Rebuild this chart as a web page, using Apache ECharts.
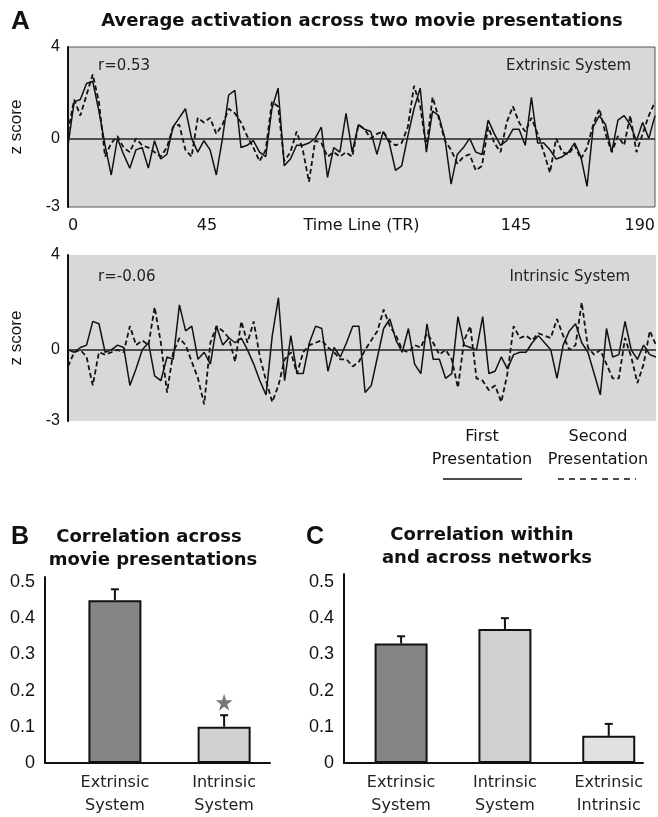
<!DOCTYPE html>
<html>
<head>
<meta charset="utf-8">
<script src="https://cdn.jsdelivr.net/npm/echarts@6/dist/echarts.min.js"></script>
<style>
  html, body { margin: 0; padding: 0; background: #fff; }
  #chart { width: 658px; height: 817px; }
</style>
</head>
<body>
<div id="chart"></div>
<script>
// time series, one value every 2 TR (0..190)
var TR_STEP = 2;
var extFirst = [
  -0.3, 1.6, 1.7, 2.4, 2.5, 1.2, -0.3, -1.6, 0, -0.7,
  -1.3, -0.5, -0.4, -1.3, -0.1, -0.9, -0.7, 0.5, 0.9, 1.3,
  0, -0.6, -0.1, -0.5, -1.6, 0, 1.9, 2.1, -0.4, -0.3,
  -0.1, -0.6, -0.8, 1.3, 2.2, -1.2, -0.9, -0.3, -0.3, -0.2,
  0, 0.5, -1.7, -0.4, -0.6, 1.1, -0.6, 0.6, 0.4, 0.3,
  -0.7, 0.3, -0.2, -1.4, -1.2, 0.1, 1.3, 2.2, -0.6, 1.2,
  1.0, 0, -2.0, -0.7, -0.4, 0, -0.6, -0.7, 0.8, 0.2,
  -0.3, -0.1, 0.4, 0.4, -0.3, 1.8, -0.2, -0.2, -0.5, -0.9,
  -0.8, -0.6, -0.2, -0.8, -2.1, 0.5, 1.0, 0.6, -0.6, 0.8,
  1.0, 0.6, -0.1, 0.7, 0, 1.0
];
var extSecond = [
  0.3, 1.7, 1.0, 1.9, 2.8, 1.6, -0.8, -0.2, 0.1, -0.4,
  -0.6, 0, -0.3, -0.4, -0.6, -0.8, -0.4, 0.5, 0.6, -0.5,
  -0.8, 0.9, 0.7, 0.9, 0.2, 0.6, 1.3, 1.1, 0.7, 0.1,
  -0.4, -1.0, -0.5, 1.6, 1.4, -1.0, -0.6, 0.3, -0.5, -1.9,
  -0.1, -0.2, -0.8, -0.6, -0.8, -0.6, -0.8, 0.6, 0.4, 0,
  0.2, 0.3, -0.1, -0.3, -0.2, 0.5, 2.3, 1.4, -0.4, 1.8,
  0.9, -0.1, -0.5, -1.1, -0.8, -0.7, -1.4, -1.2, 0.5, -0.2,
  -0.6, 0.7, 1.4, 0.7, 0.3, 0.9, 0.2, -0.6, -1.5, 0,
  -0.6, -0.7, -0.3, -0.9, -0.4, 0.6, 1.3, 0.2, -0.6, 0.1,
  -0.3, 1.0, -0.6, 0.2, 1.0, 1.6
];
var intFirst = [
  0, -0.1, 0.1, 0.2, 1.2, 1.1, -0.1, 0, 0.2, 0.1,
  -1.5, -0.8, 0, 0.3, -1.1, -1.3, -0.3, -0.4, 1.9, 0.8,
  1.0, -0.4, -0.1, -0.6, 1.0, 0.2, 0.5, 0.3, 0.5, 0,
  -0.6, -1.3, -1.9, 0.6, 2.2, -1.3, 0.6, -1.0, -1.0, 0.3,
  1.0, 0.9, -0.9, 0.1, -0.3, 0.3, 1.0, 1.0, -1.8, -1.5,
  -0.3, 0.9, 1.3, 0.4, -0.1, 0.9, -0.6, -1.0, 1.1, -0.4,
  -0.4, -1.2, -1.0, 1.4, 0.2, 0.1, 0, 1.4, -1.0, -0.9,
  -0.3, -0.8, -0.2, -0.1, -0.1, 0.3, 0.6, 0.3, 0, -1.2,
  0.2, 0.8, 1.1, 0.3, -0.1, -1.0, -1.9, 0.9, -0.3, -0.2,
  1.2, 0, -0.4, 0.2, -0.2, -0.3
];
var intSecond = [
  -0.7, -0.1, 0, -0.3, -1.5, -0.1, -0.2, -0.1, 0, -0.1,
  1.0, 0.2, 0.4, 0.2, 1.8, 0.3, -1.8, -0.1, 0.5, 0.2,
  -0.5, -1.2, -2.3, 0.3, 1.0, 0.8, 0.5, -0.5, 1.2, 0.3,
  1.2, -0.3, -1.3, -2.2, -1.5, -0.4, -0.1, -1.0, -0.1, 0.2,
  0.3, 0.4, 0.1, -0.1, -0.4, -0.4, -0.7, -0.5, 0, 0.4,
  0.8, 1.7, 1.0, 0.6, 0, -0.1, 0.2, 0.1, 0.7, 0.3,
  -0.2, 0, -0.4, -1.6, 0.4, 1.0, -1.2, -1.3, -1.7, -1.5,
  -2.2, -1.0, 1.0, 0.5, 0.6, 0.4, 0.7, 0.6, 0.5, 1.3,
  0.6, 0, 0.2, 2.0, 0.1, -0.2, 0, -0.6, -1.2, -1.2,
  0.5, -0.3, -1.4, -0.6, 0.8, 0.2
];
var timeTicks = [0, 45, 145, 190];
var zTicks = [-3, 0, 4];

// panel B
var bCats = ['Extrinsic\nSystem', 'Intrinsic\nSystem'];
var bValues = [0.45, 0.10];
var bErrors = [0.03, 0.032];
var bStar = 0.168;
// panel C
var cCats = ['Extrinsic\nSystem', 'Intrinsic\nSystem', 'Extrinsic\nIntrinsic'];
var cValues = [0.33, 0.37, 0.075];
var cErrors = [0.02, 0.03, 0.033];
var corrTicks = [0, 0.1, 0.2, 0.3, 0.4, 0.5];

var bColors = ['#858585', '#d0d0d0'];
var cColors = ['#858585', '#d0d0d0', '#e1e1e1'];

function toPts(arr) {
  return arr.map(function (v, i) { return [i * TR_STEP, v]; });
}
function barPts(vals, colors) {
  return vals.map(function (v, i) {
    return { value: [i + 1, v], itemStyle: { color: colors[i] } };
  });
}
function errPts(vals, errs) {
  return vals.map(function (v, i) { return [i + 1, v, errs[i]]; });
}
function errorBar(params, api) {
  var x = api.value(0), m = api.value(1), e = api.value(2);
  var p0 = api.coord([x, m]);
  var p1 = api.coord([x, m + e]);
  return {
    type: 'group',
    children: [
      { type: 'line', shape: { x1: p0[0], y1: p0[1], x2: p1[0], y2: p1[1] }, style: { stroke: '#111', lineWidth: 2 } },
      { type: 'line', shape: { x1: p1[0] - 4, y1: p1[1], x2: p1[0] + 4, y2: p1[1] }, style: { stroke: '#111', lineWidth: 2 } }
    ]
  };
}

var vera = '"DejaVu Sans", Verdana, sans-serif';
var arial = '"Liberation Sans", Arial, sans-serif';
var starPath = 'path://M50,0 L61,35 L98,35 L68,57 L79,91 L50,70 L21,91 L32,57 L2,35 L39,35 Z';

var chart = echarts.init(document.getElementById('chart'));

var zeroLine = {
  silent: true,
  symbol: 'none',
  label: { show: false },
  lineStyle: { color: '#222', width: 1.5, type: 'solid' },
  data: [{ yAxis: 0 }]
};

function zAxis(idx) {
  return {
    type: 'value', gridIndex: idx, min: -3, max: 4,
    name: 'z score', nameLocation: 'middle', nameGap: 43, nameRotate: 90,
    nameTextStyle: { fontFamily: arial, fontSize: 17, color: '#111' },
    axisLine: { show: true, lineStyle: { color: '#111', width: 2 } },
    axisTick: { show: false },
    splitLine: { show: false },
    axisLabel: { customValues: zTicks, fontFamily: arial, fontSize: 16, color: '#111', margin: 8 }
  };
}

function corrAxis(idx, max) {
  return {
    type: 'value', gridIndex: idx, min: 0, max: max,
    axisLine: { show: true, lineStyle: { color: '#111', width: 2 } },
    axisTick: { show: false },
    splitLine: { show: false },
    axisLabel: {
      customValues: corrTicks, fontFamily: arial, fontSize: 18, color: '#111', margin: 10,
      formatter: function (v) { return v === 0 ? '0' : v.toFixed(1); }
    }
  };
}

function catAxis(idx, min, max, cats) {
  return {
    type: 'value', gridIndex: idx, min: min, max: max,
    axisLine: { show: true, onZero: false, lineStyle: { color: '#111', width: 2 } },
    axisTick: { show: false },
    splitLine: { show: false },
    axisLabel: {
      customValues: cats.map(function (c, i) { return i + 1; }),
      formatter: function (v) { return cats[Math.round(v) - 1]; },
      fontFamily: vera, fontSize: 16, color: '#222', lineHeight: 23, margin: 8
    }
  };
}

function txt(text, x, y, font, align, color) {
  return {
    type: 'text', x: x, y: y,
    style: { text: text, font: font, fill: color || '#111', align: align || 'center', verticalAlign: 'middle' }
  };
}

var option = {
  backgroundColor: '#fff',
  animation: false,
  grid: [
    { left: 62, top: 47, width: 594, height: 160, show: true, backgroundColor: '#d8d8d8', borderColor: '#555', borderWidth: 1 },
    { left: 62, top: 255, width: 594, height: 166, show: true, backgroundColor: '#d8d8d8', borderWidth: 0 },
    { left: 45, top: 577, width: 225, height: 190 },
    { left: 344, top: 574, width: 299, height: 193 }
  ],
  xAxis: [
    {
      type: 'value', gridIndex: 0, min: 0, max: 190,
      name: 'Time Line (TR)', nameLocation: 'middle', nameGap: 11, nameMoveOverlap: false,
      nameTextStyle: { fontFamily: vera, fontSize: 16, color: '#111', verticalAlign: 'top' },
      axisLine: { show: false, onZero: false },
      axisTick: { show: false },
      splitLine: { show: false },
      axisLabel: {
        customValues: timeTicks, fontFamily: vera, fontSize: 16, color: '#111', margin: 11,
        alignMinLabel: 'left', alignMaxLabel: 'right'
      }
    },
    {
      type: 'value', gridIndex: 1, min: 0, max: 190, show: false
    },
    catAxis(2, 0.36, 2.42, bCats),
    catAxis(3, 0.45, 3.33, cCats)
  ],
  yAxis: [
    zAxis(0),
    zAxis(1),
    corrAxis(2, 0.514),
    corrAxis(3, 0.522)
  ],
  series: [
    {
      type: 'line', xAxisIndex: 0, yAxisIndex: 0, data: toPts(extFirst),
      symbol: 'none', lineStyle: { color: '#111', width: 1.5 }, markLine: zeroLine, z: 3
    },
    {
      type: 'line', xAxisIndex: 0, yAxisIndex: 0, data: toPts(extSecond),
      symbol: 'none', lineStyle: { color: '#111', width: 1.8, type: [5, 3] }, z: 3
    },
    {
      type: 'line', xAxisIndex: 1, yAxisIndex: 1, data: toPts(intFirst),
      symbol: 'none', lineStyle: { color: '#111', width: 1.5 }, markLine: zeroLine, z: 3
    },
    {
      type: 'line', xAxisIndex: 1, yAxisIndex: 1, data: toPts(intSecond),
      symbol: 'none', lineStyle: { color: '#111', width: 1.8, type: [5, 3] }, z: 3
    },
    {
      type: 'bar', xAxisIndex: 2, yAxisIndex: 2, barWidth: 53,
      data: barPts(bValues, bColors),
      itemStyle: { borderColor: '#111', borderWidth: 2 }
    },
    {
      type: 'custom', xAxisIndex: 2, yAxisIndex: 2, renderItem: errorBar,
      encode: { x: 0, y: 1 }, data: errPts(bValues, bErrors), z: 4
    },
    {
      type: 'scatter', xAxisIndex: 2, yAxisIndex: 2, symbol: starPath, symbolSize: 17,
      itemStyle: { color: '#555' }, data: [[2, bStar]]
    },
    {
      type: 'bar', xAxisIndex: 3, yAxisIndex: 3, barWidth: 53,
      data: barPts(cValues, cColors),
      itemStyle: { borderColor: '#111', borderWidth: 2 }
    },
    {
      type: 'custom', xAxisIndex: 3, yAxisIndex: 3, renderItem: errorBar,
      encode: { x: 0, y: 1 }, data: errPts(cValues, cErrors), z: 4
    }
  ],
  graphic: [
    txt('A', 11, 22, 'bold 26px ' + arial, 'left'),
    txt('Average activation across two movie presentations', 362, 21, 'bold 18px ' + vera),
    txt('r=0.53', 98, 66, '15px ' + vera, 'left', '#222'),
    txt('Extrinsic System', 631, 66, '15px ' + vera, 'right', '#222'),
    txt('r=-0.06', 98, 277, '15px ' + vera, 'left', '#222'),
    txt('Intrinsic System', 630, 277, '15px ' + vera, 'right', '#222'),
    txt('First', 482, 437, '16px ' + vera),
    txt('Presentation', 482, 460, '16px ' + vera),
    txt('Second', 598, 437, '16px ' + vera),
    txt('Presentation', 598, 460, '16px ' + vera),
    { type: 'line', shape: { x1: 443, y1: 479, x2: 522, y2: 479 }, style: { stroke: '#111', lineWidth: 1.5 } },
    { type: 'line', shape: { x1: 558, y1: 479, x2: 636, y2: 479 }, style: { stroke: '#111', lineWidth: 1.5, lineDash: [6, 5] } },
    txt('B', 11, 537, 'bold 25px ' + arial, 'left'),
    txt('Correlation across', 149, 537, 'bold 18px ' + vera),
    txt('movie presentations', 153, 560, 'bold 18px ' + vera),
    txt('C', 306, 537, 'bold 25px ' + arial, 'left'),
    txt('Correlation within', 482, 535, 'bold 18px ' + vera),
    txt('and across networks', 487, 558, 'bold 18px ' + vera)
  ]
};

chart.setOption(option);
</script>
</body>
</html>
